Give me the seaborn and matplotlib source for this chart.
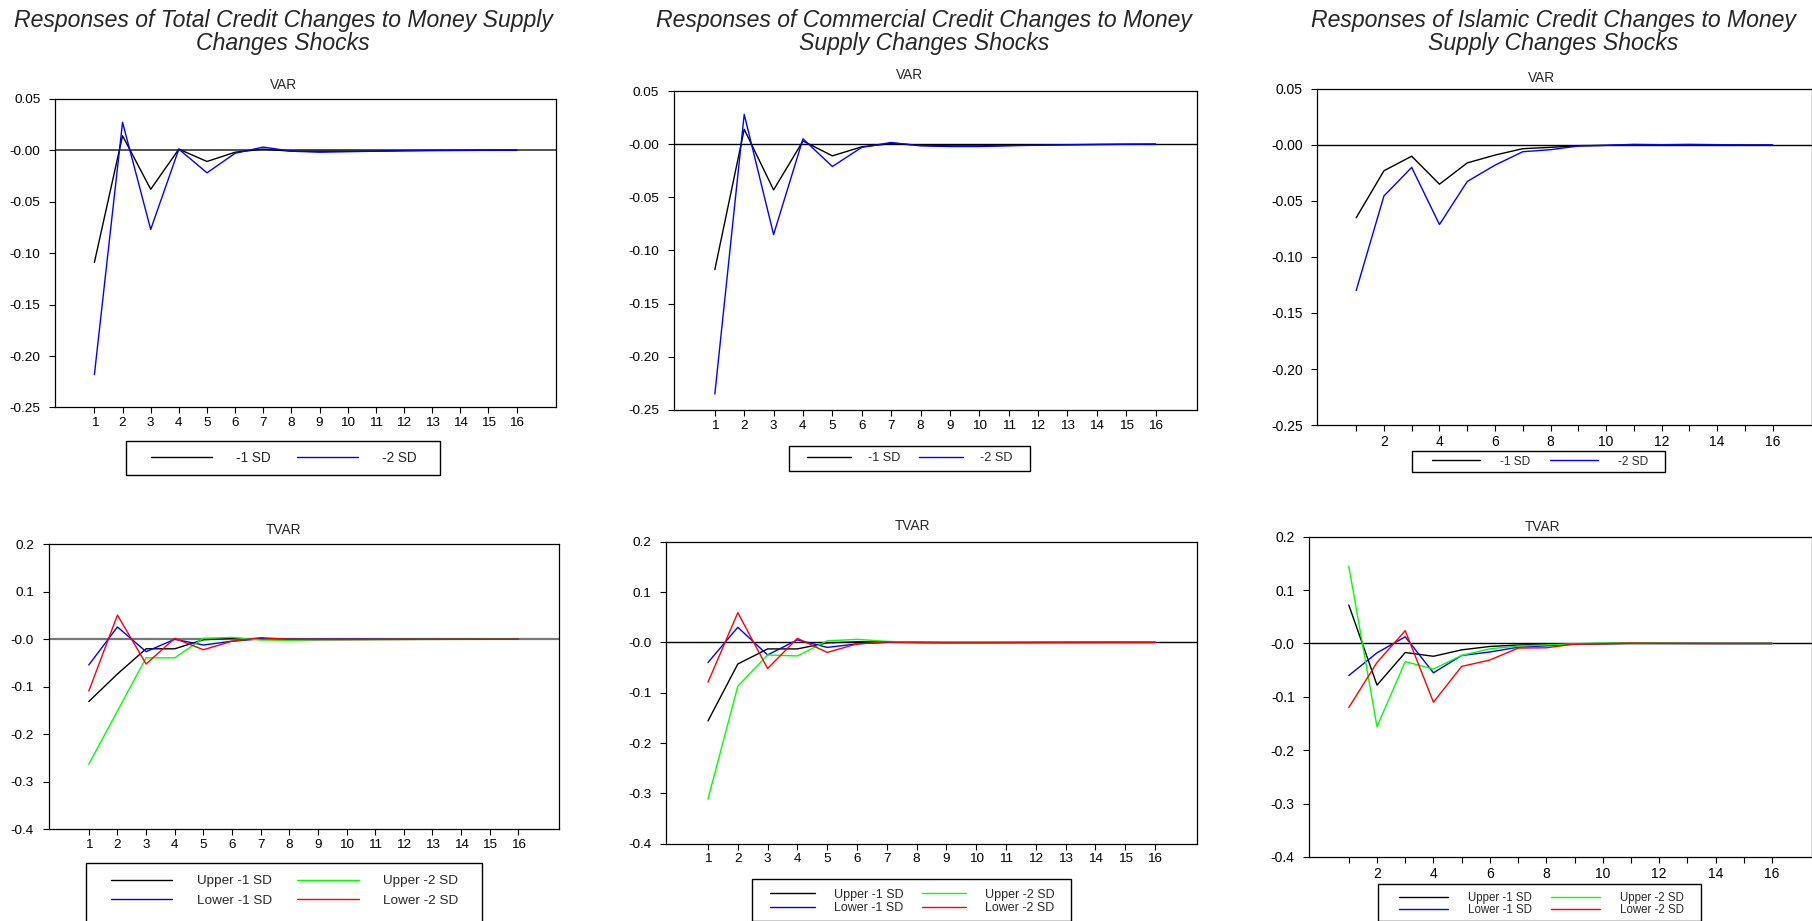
import numpy as np
import pandas as pd
import matplotlib
matplotlib.use("Agg")
import matplotlib.pyplot as plt
from matplotlib.lines import Line2D
from matplotlib.patches import Rectangle
import seaborn as sns

# ---------------- data ----------------
periods = list(range(1, 17))

titles = [
    "Responses of Total Credit Changes to Money Supply\nChanges Shocks",
    "Responses of Commercial Credit Changes to Money\nSupply Changes Shocks",
    "Responses of Islamic Credit Changes to Money\nSupply Changes Shocks",
]

var_labels = ["-1 SD", "-2 SD"]
tvar_labels = ["Upper -1 SD", "Lower -1 SD", "Upper -2 SD", "Lower -2 SD"]

var_yticks = [0.05, 0.0, -0.05, -0.10, -0.15, -0.20, -0.25]
var_yticklabels = ["0.05", "-0.00", "-0.05", "-0.10", "-0.15", "-0.20", "-0.25"]
tvar_yticks = [0.2, 0.1, 0.0, -0.1, -0.2, -0.3, -0.4]
tvar_yticklabels = ["0.2", "0.1", "-0.0", "-0.1", "-0.2", "-0.3", "-0.4"]
xticklabels_all = [str(p) for p in periods]
xticklabels_even = [str(p) if p % 2 == 0 else "" for p in periods]

# VAR: total credit
total_var_1sd = [-0.109, 0.014, -0.038, 0.001, -0.011, -0.002, 0.001, -0.001,
                 -0.001, -0.001, -0.001, -0.0005, -0.0003, -0.0002, -0.0001, 0.0]
total_var_2sd = [-0.218, 0.027, -0.077, 0.001, -0.022, -0.003, 0.003, -0.001,
                 -0.002, -0.0015, -0.001, -0.0006, -0.0003, -0.0002, -0.0001, 0.0]
# VAR: commercial credit
comm_var_1sd = [-0.118, 0.014, -0.043, 0.003, -0.011, -0.0025, 0.0006, -0.001,
                -0.0016, -0.0016, -0.0012, -0.0008, -0.0005, -0.0003, -0.0001, 0.0]
comm_var_2sd = [-0.235, 0.028, -0.085, 0.005, -0.021, -0.003, 0.0016, -0.0016,
                -0.0022, -0.0022, -0.0015, -0.001, -0.0006, -0.0003, -0.0001, 0.0]
# VAR: islamic credit
isl_var_1sd = [-0.065, -0.023, -0.010, -0.035, -0.016, -0.009, -0.0033, -0.0021,
               -0.0006, -0.0003, 0.0002, 0.0, 0.0002, 0.0, 0.0, 0.0]
isl_var_2sd = [-0.130, -0.0455, -0.020, -0.071, -0.0326, -0.018, -0.006, -0.0042,
               -0.0009, -0.0003, 0.0006, 0.0003, 0.0006, 0.0003, 0.0, 0.0]

# TVAR: total credit
total_upper_1sd = [-0.131, -0.073, -0.020, -0.020, -0.001, 0.002, 0.0, -0.0005,
                   -0.0005, -0.0003, -0.0002, -0.0001, 0.0, 0.0, 0.0, 0.0]
total_lower_1sd = [-0.054, 0.026, -0.026, 0.0, -0.012, -0.004, 0.001, 0.0,
                   0.0, 0.0, 0.0, 0.0, 0.0, 0.0, 0.0, 0.0]
total_upper_2sd = [-0.263, -0.151, -0.039, -0.039, 0.002, 0.004, -0.0014, -0.002,
                   -0.001, -0.0008, -0.0005, -0.0003, -0.0002, -0.0001, 0.0, 0.0]
total_lower_2sd = [-0.109, 0.051, -0.052, 0.002, -0.022, -0.004, 0.0035, 0.0,
                   -0.0005, -0.0005, -0.0003, -0.0002, -0.0001, 0.0, 0.0, 0.0]
# TVAR: commercial credit
comm_upper_1sd = [-0.156, -0.043, -0.013, -0.013, -0.001, 0.001, 0.001, 0.0,
                  -0.0005, -0.0005, -0.0003, -0.0002, -0.0001, 0.0, 0.0, 0.0]
comm_lower_1sd = [-0.040, 0.030, -0.025, 0.005, -0.010, -0.003, 0.0, 0.0,
                  0.0, 0.0, 0.0, 0.0, 0.0, 0.0, 0.0, 0.0]
comm_upper_2sd = [-0.311, -0.087, -0.025, -0.027, 0.003, 0.006, 0.002, 0.0,
                  0.0005, 0.0005, 0.0003, 0.0002, 0.0001, 0.0, 0.0, 0.0]
comm_lower_2sd = [-0.079, 0.059, -0.052, 0.008, -0.020, -0.003, 0.001, -0.0007,
                  -0.001, -0.001, -0.0008, -0.0005, -0.0003, -0.0002, -0.0001, 0.0]
# TVAR: islamic credit
isl_upper_1sd = [0.072, -0.078, -0.017, -0.024, -0.012, -0.0056, -0.003, -0.002,
                 -0.0006, 0.0, 0.0003, 0.0002, 0.0001, 0.0, 0.0, 0.0]
isl_lower_1sd = [-0.060, -0.0175, 0.0125, -0.055, -0.0225, -0.016, -0.007, -0.0044,
                 -0.0012, -0.0005, 0.0, 0.0, 0.0, 0.0, 0.0, 0.0]
isl_upper_2sd = [0.145, -0.156, -0.034, -0.048, -0.0225, -0.010, -0.005, -0.0025,
                 -0.0006, 0.0006, 0.0008, 0.0006, 0.0004, 0.0002, 0.0001, 0.0]
isl_lower_2sd = [-0.120, -0.0356, 0.024, -0.110, -0.043, -0.031, -0.0087, -0.0081,
                 -0.0012, -0.0006, 0.0006, 0.0003, 0.0002, 0.0001, 0.0, 0.0]

var_colors = ["#000000", "#0000FF"]
tvar_colors = ["#000000", "#0000FF", "#00FF00", "#FF0000"]

# ---------------- figure ----------------
sns.set_style("ticks")
plt.rcParams['font.family'] = ['Liberation Sans', 'DejaVu Sans']

W, H = 1812, 921
fig = plt.figure(figsize=(W / 100, H / 100), dpi=100)


def px_axes(left, right, top, bottom):
    return fig.add_axes([left / W, 1 - bottom / H, (right - left) / W, (bottom - top) / H])


def draw_panel(ax, series, colors, labels, yticks, yticklabels, xlabels, fs,
               zero_color="black", zero_lw=1.0):
    ax.axhline(0, color=zero_color, lw=zero_lw, zorder=1)
    for vals, c, lab in zip(series, colors, labels):
        df = pd.DataFrame({"period": periods, "value": vals})
        sns.lineplot(data=df, x="period", y="value", color=c, lw=1.0, ax=ax,
                     legend=False, zorder=2)
    ax.set_xlim(-0.4, 17.4)
    ax.set_ylim(yticks[-1], yticks[0])
    ax.set_xticks(periods)
    ax.set_xticklabels(xlabels, fontsize=fs)
    ax.set_yticks(yticks)
    ax.set_yticklabels(yticklabels, fontsize=fs)
    ax.set_xlabel("")
    ax.set_ylabel("")
    ax.tick_params(axis="x", direction="out", length=4.5, width=0.8, pad=2.5, colors="black")
    ax.tick_params(axis="y", direction="out", length=4.5, width=0.8, pad=6.0, colors="black")
    for s in ax.spines.values():
        s.set_visible(True)
        s.set_color("black")
        s.set_linewidth(0.9)


def draw_legend(ax, labels, colors, box, fs, hstart, hend, tstart, tend, col2, row_y,
                labelspacing=0.3, ncol=2):
    x0, x1, y0, y1 = box
    fig.patches.append(Rectangle((x0 / W, 1 - y1 / H), (x1 - x0) / W, (y1 - y0) / H,
                                 transform=fig.transFigure, fill=False,
                                 edgecolor="black", lw=1.0))
    fs_px = fs * 100 / 72
    handles = [Line2D([], [], color=c, lw=1.0) for c in colors]
    leg = ax.legend(handles, labels, loc="center left",
                    bbox_to_anchor=(hstart / W, 1 - row_y / H),
                    bbox_transform=fig.transFigure, ncol=ncol, fontsize=fs,
                    frameon=False, borderpad=0, borderaxespad=0,
                    handlelength=(hend - hstart) / fs_px,
                    handletextpad=(tstart - hend) / fs_px,
                    columnspacing=(col2 - tend) / fs_px,
                    labelspacing=labelspacing)
    return leg


# suptitles
for cx, t in zip([283, 924, 1553], titles):
    fig.text(cx / W, 1 - 32 / H, t, ha="center", va="center", fontsize=16.6,
             style="italic", linespacing=1.05)

# ---- top row (VAR) ----
ax1 = px_axes(55, 556, 98.7, 407.5)
draw_panel(ax1, [total_var_1sd, total_var_2sd], var_colors, var_labels,
           var_yticks, var_yticklabels, xticklabels_all, 9.7, zero_color="#333333", zero_lw=1.2)
fig.text(283 / W, 1 - 85 / H, "VAR", ha="center", va="center", fontsize=9.8)
draw_legend(ax1, var_labels, var_colors, (126, 440, 441, 475), 9.8,
            151, 212, 236, 271, 297, 458)

ax2 = px_axes(673.7, 1196.7, 91, 410)
draw_panel(ax2, [comm_var_1sd, comm_var_2sd], var_colors, var_labels,
           var_yticks, var_yticklabels, xticklabels_all, 9.7)
fig.text(910 / W, 1 - 75 / H, "VAR", ha="center", va="center", fontsize=9.8)
draw_legend(ax2, var_labels, var_colors, (788.6, 1029.6, 445.7, 470.7), 9.1,
            806.8, 850.5, 868.3, 900.6, 918.8, 458.2)

ax3 = px_axes(1317.3, 1811.5, 89, 425)
draw_panel(ax3, [isl_var_1sd, isl_var_2sd], var_colors, var_labels,
           var_yticks, var_yticklabels, xticklabels_even, 10)
fig.text(1541 / W, 1 - 78 / H, "VAR", ha="center", va="center", fontsize=9.8)
draw_legend(ax3, var_labels, var_colors, (1411.6, 1665, 451, 472.3), 8.6,
            1431.6, 1480, 1500.4, 1531, 1550, 461.6)

# ---- bottom row (TVAR) ----
ax4 = px_axes(48.7, 558.5, 544.3, 829.3)
draw_panel(ax4, [total_upper_1sd, total_lower_1sd, total_upper_2sd, total_lower_2sd],
           tvar_colors, tvar_labels, tvar_yticks, tvar_yticklabels, xticklabels_all, 9.7,
           zero_color="#777777", zero_lw=1.6)
fig.text(284 / W, 1 - 530 / H, "TVAR", ha="center", va="center", fontsize=9.8)
draw_legend(ax4, tvar_labels, tvar_colors, (86, 482, 862.5, 930), 9.7,
            110.5, 172.3, 196.7, 271.7, 297, 891, labelspacing=0.55)

ax5 = px_axes(666.3, 1196.7, 541.7, 843.7)
draw_panel(ax5, [comm_upper_1sd, comm_lower_1sd, comm_upper_2sd, comm_lower_2sd],
           tvar_colors, tvar_labels, tvar_yticks, tvar_yticklabels, xticklabels_all, 9.7)
fig.text(913 / W, 1 - 526 / H, "TVAR", ha="center", va="center", fontsize=9.8)
draw_legend(ax5, tvar_labels, tvar_colors, (752.4, 1071, 879, 920.5), 9.0,
            770.4, 815, 833.6, 903.3, 921.7, 901.3, labelspacing=0.12)

ax6 = px_axes(1309.3, 1811.5, 536.7, 857)
draw_panel(ax6, [isl_upper_1sd, isl_lower_1sd, isl_upper_2sd, isl_lower_2sd],
           tvar_colors, tvar_labels, tvar_yticks, tvar_yticklabels, xticklabels_even, 10)
fig.text(1542.7 / W, 1 - 526.7 / H, "TVAR", ha="center", va="center", fontsize=9.8)
draw_legend(ax6, tvar_labels, tvar_colors, (1378, 1701, 884.3, 920.5), 8.3,
            1398.6, 1447.9, 1467.6, 1531.8, 1551, 904, labelspacing=0.07)

fig.savefig("out.png", dpi=100)
